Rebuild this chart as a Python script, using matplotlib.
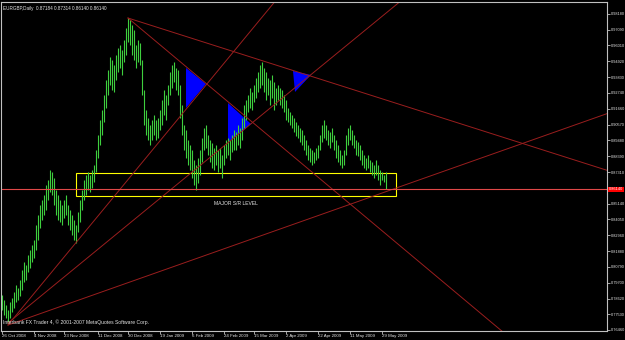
# ── Imports ───────────────────────────────────────────────────────────────────
import numpy as np
import matplotlib.pyplot as plt
from matplotlib.patches import Rectangle, Polygon

plt.rcParams['font.family'] = ['Liberation Sans', 'DejaVu Sans']

# ── Data: EURGBP daily bars ───────────────────────────────────────────────────
highs = [0.7886, 0.7852, 0.7818, 0.7783, 0.7838, 0.7866, 0.7907, 0.7955, 0.7934, 0.7989,
         0.8058, 0.8113, 0.8092, 0.8161, 0.8195, 0.8230, 0.8264, 0.8367, 0.8436, 0.8505,
         0.8539, 0.8573, 0.8642, 0.8676, 0.8745, 0.8731, 0.8690, 0.8608, 0.8573, 0.8539,
         0.8505, 0.8539, 0.8573, 0.8505, 0.8470, 0.8436, 0.8402, 0.8367, 0.8457, 0.8539,
         0.8608, 0.8676, 0.8711, 0.8731, 0.8711, 0.8745, 0.8779, 0.8882, 0.8986, 0.9089,
         0.9157, 0.9260, 0.9363, 0.9432, 0.9521, 0.9501, 0.9466, 0.9535, 0.9583, 0.9604,
         0.9570, 0.9638, 0.9721, 0.9789, 0.9776, 0.9741, 0.9707, 0.9604, 0.9638, 0.9618,
         0.9501, 0.9295, 0.9157, 0.9102, 0.9054, 0.9089, 0.9123, 0.9089, 0.9102, 0.9157,
         0.9226, 0.9295, 0.9260, 0.9329, 0.9418, 0.9466, 0.9487, 0.9446, 0.9432, 0.9329,
         0.9192, 0.9054, 0.9020, 0.8951, 0.8917, 0.8882, 0.8814, 0.8779, 0.8828, 0.8882,
         0.8965, 0.9034, 0.9054, 0.8986, 0.8951, 0.8931, 0.8896, 0.8917, 0.8882, 0.8896,
         0.8848, 0.8917, 0.8951, 0.8965, 0.8951, 0.8986, 0.9020, 0.9006, 0.9054, 0.9034,
         0.9102, 0.9192, 0.9226, 0.9260, 0.9308, 0.9281, 0.9329, 0.9377, 0.9418, 0.9466,
         0.9487, 0.9446, 0.9418, 0.9377, 0.9363, 0.9398, 0.9350, 0.9308, 0.9329, 0.9308,
         0.9295, 0.9260, 0.9226, 0.9171, 0.9144, 0.9123, 0.9102, 0.9075, 0.9054, 0.9034,
         0.9020, 0.8986, 0.8951, 0.8917, 0.8896, 0.8882, 0.8869, 0.8896, 0.8917, 0.8986,
         0.9054, 0.9089, 0.9054, 0.9020, 0.9006, 0.9034, 0.8986, 0.8951, 0.8917, 0.8882,
         0.8848, 0.8882, 0.8986, 0.9034, 0.9054, 0.9020, 0.8986, 0.8951, 0.8937, 0.8917,
         0.8882, 0.8848, 0.8828, 0.8848, 0.8814, 0.8800, 0.8779, 0.8814, 0.8779, 0.8745,
         0.8731, 0.8711, 0.8731]

lows = [0.7783, 0.7749, 0.7728, 0.7694, 0.7728, 0.7770, 0.7797, 0.7838, 0.7852, 0.7880,
        0.7921, 0.7976, 0.7989, 0.8044, 0.8072, 0.8113, 0.8141, 0.8195, 0.8264, 0.8347,
        0.8402, 0.8436, 0.8470, 0.8539, 0.8594, 0.8573, 0.8505, 0.8436, 0.8402, 0.8388,
        0.8367, 0.8415, 0.8436, 0.8367, 0.8333, 0.8299, 0.8264, 0.8244, 0.8319, 0.8388,
        0.8470, 0.8539, 0.8573, 0.8608, 0.8594, 0.8621, 0.8663, 0.8731, 0.8828, 0.8917,
        0.8986, 0.9075, 0.9171, 0.9260, 0.9329, 0.9295, 0.9281, 0.9363, 0.9418, 0.9446,
        0.9398, 0.9487, 0.9535, 0.9624, 0.9604, 0.9535, 0.9501, 0.9446, 0.9487, 0.9466,
        0.9260, 0.9054, 0.8986, 0.8951, 0.8917, 0.8951, 0.8986, 0.8951, 0.8965, 0.9020,
        0.9054, 0.9123, 0.9089, 0.9192, 0.9260, 0.9308, 0.9350, 0.9295, 0.9260, 0.9102,
        0.8986, 0.8882, 0.8828, 0.8779, 0.8745, 0.8690, 0.8642, 0.8608, 0.8656, 0.8711,
        0.8800, 0.8882, 0.8896, 0.8848, 0.8800, 0.8759, 0.8745, 0.8779, 0.8731, 0.8759,
        0.8690, 0.8779, 0.8828, 0.8848, 0.8814, 0.8869, 0.8882, 0.8882, 0.8917, 0.8896,
        0.8951, 0.9034, 0.9089, 0.9144, 0.9171, 0.9157, 0.9212, 0.9240, 0.9281, 0.9308,
        0.9329, 0.9281, 0.9226, 0.9260, 0.9192, 0.9240, 0.9157, 0.9192, 0.9226, 0.9192,
        0.9171, 0.9144, 0.9089, 0.9075, 0.9054, 0.9034, 0.9006, 0.8979, 0.8965, 0.8937,
        0.8917, 0.8882, 0.8848, 0.8814, 0.8800, 0.8779, 0.8793, 0.8814, 0.8828, 0.8882,
        0.8937, 0.8965, 0.8951, 0.8917, 0.8896, 0.8937, 0.8882, 0.8828, 0.8800, 0.8779,
        0.8759, 0.8779, 0.8848, 0.8917, 0.8951, 0.8917, 0.8896, 0.8848, 0.8841, 0.8814,
        0.8779, 0.8759, 0.8745, 0.8759, 0.8731, 0.8711, 0.8690, 0.8711, 0.8676, 0.8642,
        0.8676, 0.8663, 0.8614]

last_price = 0.86140
header = 'EURGBP,Daily  0.87184 0.87314 0.86140 0.86140'
footer = 'Interbank FX Trader 4, \u00a9 2001-2007 MetaQuotes Software Corp.'

# Date labels (bar index where each label sits)
date_idx = [0, 16, 31, 48, 63, 79, 95, 111, 126, 142, 158, 174, 190]
date_labels = ['26 Oct 2008', '4 Nov 2008', '23 Nov 2008', '11 Dec 2008', '30 Dec 2008',
               '19 Jan 2009', '6 Feb 2009', '24 Feb 2009', '15 Mar 2009', '2 Apr 2009',
               '22 Apr 2009', '11 May 2009', '29 May 2009']

# Price scale labels
price_ticks = [0.98180, 0.97090, 0.96010, 0.94920, 0.93830, 0.92740, 0.91660, 0.90570,
               0.89480, 0.88390, 0.87310, 0.85140, 0.84050, 0.82960, 0.81880, 0.80790,
               0.79700, 0.78620, 0.77530, 0.76460]

# Trend lines: anchor (bar, price) -> second point (bar, price), drawn as rays
tl_x0 = [63, 63, 3, 3, 3]
tl_p0 = [0.9789, 0.9789, 0.7680, 0.7694, 0.7680]
tl_x1 = [302, 250.5, 135.5, 197, 303.5]
tl_p1 = [0.8745, 0.7632, 0.9886, 0.9879, 0.9137]

# Blue triangles (bar, price vertices)
tri_1 = [(92, 0.9446), (102, 0.9336), (92, 0.9171)]
tri_2 = [(113, 0.9205), (124.5, 0.9061), (113, 0.8931)]
tri_3 = [(145.5, 0.9425), (154.5, 0.9398), (146.5, 0.9281)]

# Support/resistance box: bar range and price range
box_bars = (37, 197)
box_prices = (0.8566, 0.8725)
box_text = 'MAJOR S/R LEVEL'

# ── Figure ────────────────────────────────────────────────────────────────────
GRID = '#C0C0C0'
TXT = '#E6E6E6'
fig = plt.figure(figsize=(6.25, 3.40), dpi=100, facecolor='black')
ax = fig.add_axes([1 / 625, 9 / 340, 606 / 625, 329 / 340], facecolor='black')

XMAX = 302.5
ax.set_xlim(-0.5, XMAX)
ax.set_ylim(0.7639, 0.9899)

# Bars
idx = np.arange(len(highs))
ax.vlines(idx, lows, highs, color='#3ECF3E', lw=0.8)

# Trend lines (rays extended to the right edge)
for x0, p0, x1, p1 in zip(tl_x0, tl_p0, tl_x1, tl_p1):
    slope = (p1 - p0) / (x1 - x0)
    ax.plot([x0, XMAX], [p0, p0 + slope * (XMAX - x0)], color='#9A1E1E', lw=0.7)

# Triangles
for tri in (tri_1, tri_2, tri_3):
    ax.add_patch(Polygon(tri, closed=True, facecolor='#0000FF', edgecolor='none'))

# S/R box
ax.add_patch(Rectangle((box_bars[0], box_prices[0]), box_bars[1] - box_bars[0],
                       box_prices[1] - box_prices[0], fill=False,
                       edgecolor='#FFFF00', lw=0.8))
ax.text((box_bars[0] + box_bars[1]) / 2, box_prices[0] - 0.0048, box_text,
        color=TXT, fontsize=3.6, ha='center', va='center')

# Current price line
ax.axhline(last_price, color='#E04848', lw=0.8)

# ── Axes styling ──────────────────────────────────────────────────────────────
for s in ax.spines.values():
    s.set_color(GRID)
    s.set_linewidth(0.8)

ax.yaxis.tick_right()
ax.set_yticks(price_ticks)
ax.set_yticklabels([f'{v:.5f}' for v in price_ticks])
ax.tick_params(axis='y', colors=GRID, labelcolor=TXT, length=2, width=0.6,
               labelsize=2.8, pad=0.6)

ax.set_xticks(date_idx)
ax.set_xticklabels(date_labels)
for lab in ax.get_xticklabels():
    lab.set_ha('left')
ax.tick_params(axis='x', colors=GRID, labelcolor=TXT, length=2, width=0.6,
               labelsize=3.2, pad=0.5)

# Current price label on the scale
ax.text(1.003, last_price, f'{last_price:.5f}', transform=ax.get_yaxis_transform(),
        color='white', fontsize=2.8, ha='left', va='center', clip_on=False,
        bbox=dict(facecolor='#FF0000', edgecolor='none', pad=0.4))

# Header and footer texts
ax.text(0.004, 0.988, header, transform=ax.transAxes, color=TXT,
        fontsize=3.3, ha='left', va='top')
ax.text(0.004, 0.018, footer, transform=ax.transAxes, color=TXT,
        fontsize=3.6, ha='left', va='bottom')

fig.savefig('out.png', dpi=100, facecolor='black')
